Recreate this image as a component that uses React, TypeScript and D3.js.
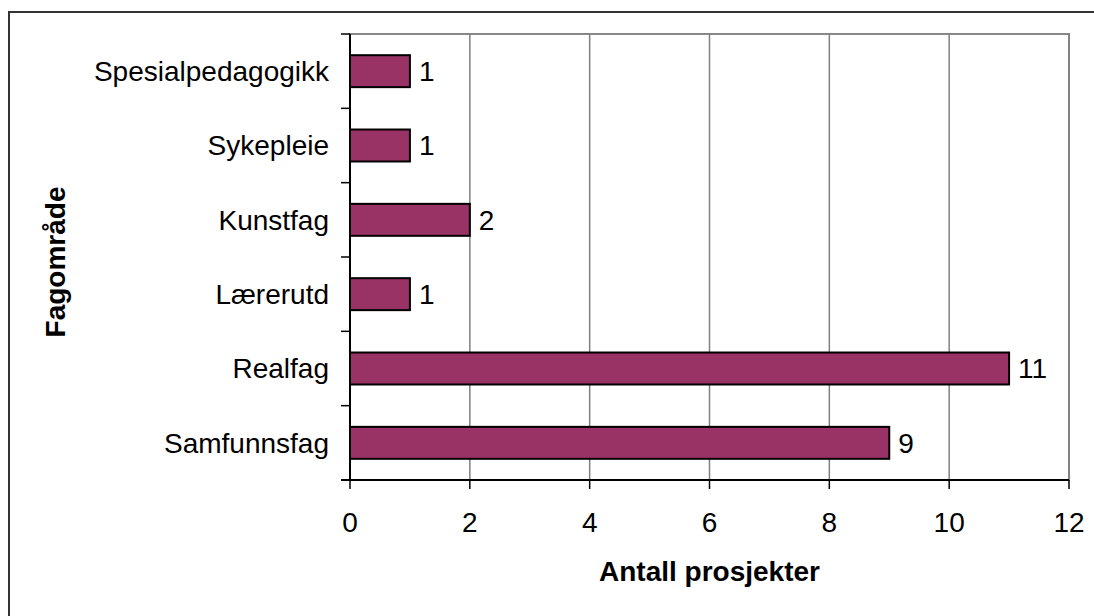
import React, { useEffect, useRef } from 'react';
import * as d3 from 'd3';

const categories = ['Spesialpedagogikk', 'Sykepleie', 'Kunstfag', 'Lærerutd', 'Realfag', 'Samfunnsfag'];
const values = [1, 1, 2, 1, 11, 9];
const xTicks = [0, 2, 4, 6, 8, 10, 12];

const App: React.FC = () => {
  const ref = useRef<SVGSVGElement | null>(null);

  useEffect(() => {
    document.body.style.margin = '0';
    const W = 1094;
    const H = 616;
    const plot = { left: 350, right: 1069, top: 34, bottom: 480 };
    const font = 'Arial, "Liberation Sans", sans-serif';
    const fs = 28;

    const svg = d3.select(ref.current);
    svg.selectAll('*').remove();
    svg.attr('width', W).attr('height', H);

    // background + outer frame
    svg.append('rect').attr('width', W).attr('height', H).attr('fill', '#fff');
    svg.append('rect')
      .attr('x', 9).attr('y', 12)
      .attr('width', W + 10).attr('height', H + 10)
      .attr('fill', 'none').attr('stroke', '#333').attr('stroke-width', 2);

    const x = d3.scaleLinear().domain([0, 12]).range([plot.left, plot.right]);
    const y = d3.scaleBand<string>()
      .domain(categories)
      .range([plot.top, plot.bottom])
      .paddingInner(0.57)
      .paddingOuter(0.285);

    // plot area border (gray)
    svg.append('rect')
      .attr('x', plot.left).attr('y', plot.top)
      .attr('width', plot.right - plot.left).attr('height', plot.bottom - plot.top)
      .attr('fill', 'none').attr('stroke', '#888').attr('stroke-width', 2);

    // gridlines
    svg.append('g')
      .selectAll('line')
      .data(xTicks.filter(t => t > 0))
      .enter()
      .append('line')
      .attr('x1', d => x(d)).attr('x2', d => x(d))
      .attr('y1', plot.top).attr('y2', plot.bottom)
      .attr('stroke', '#808080').attr('stroke-width', 1.5);

    // bars
    svg.append('g')
      .selectAll('rect')
      .data(categories)
      .enter()
      .append('rect')
      .attr('x', x(0))
      .attr('y', d => y(d)!)
      .attr('width', (d, i) => x(values[i]) - x(0))
      .attr('height', y.bandwidth())
      .attr('fill', '#993366')
      .attr('stroke', '#000')
      .attr('stroke-width', 2);

    // value labels
    svg.append('g')
      .selectAll('text')
      .data(categories)
      .enter()
      .append('text')
      .attr('x', (d, i) => x(values[i]) + 9)
      .attr('y', d => y(d)! + y.bandwidth() / 2)
      .attr('dy', '0.35em')
      .attr('font-family', font)
      .attr('font-size', fs)
      .attr('fill', '#000')
      .text((d, i) => String(values[i]));

    // y axis line + ticks at band boundaries
    const bounds = d3.range(categories.length + 1).map(i => plot.top + i * (plot.bottom - plot.top) / categories.length);
    svg.append('line')
      .attr('x1', plot.left).attr('x2', plot.left)
      .attr('y1', plot.top).attr('y2', plot.bottom)
      .attr('stroke', '#000').attr('stroke-width', 2);
    svg.append('g')
      .selectAll('line')
      .data(bounds)
      .enter()
      .append('line')
      .attr('x1', plot.left - 9).attr('x2', plot.left)
      .attr('y1', d => d).attr('y2', d => d)
      .attr('stroke', '#000').attr('stroke-width', 1.5);

    // category labels
    svg.append('g')
      .selectAll('text')
      .data(categories)
      .enter()
      .append('text')
      .attr('x', plot.left - 21)
      .attr('y', d => y(d)! + y.bandwidth() / 2)
      .attr('dy', '0.35em')
      .attr('text-anchor', 'end')
      .attr('font-family', font)
      .attr('font-size', fs)
      .attr('fill', '#000')
      .text(d => d);

    // x axis line + ticks
    svg.append('line')
      .attr('x1', plot.left - 9).attr('x2', plot.right)
      .attr('y1', plot.bottom).attr('y2', plot.bottom)
      .attr('stroke', '#000').attr('stroke-width', 2);
    svg.append('g')
      .selectAll('line')
      .data(xTicks)
      .enter()
      .append('line')
      .attr('x1', d => x(d)).attr('x2', d => x(d))
      .attr('y1', plot.bottom).attr('y2', plot.bottom + 9)
      .attr('stroke', '#000').attr('stroke-width', 1.5);
    svg.append('g')
      .selectAll('text')
      .data(xTicks)
      .enter()
      .append('text')
      .attr('x', d => x(d))
      .attr('y', plot.bottom + 42)
      .attr('dy', '0.35em')
      .attr('text-anchor', 'middle')
      .attr('font-family', font)
      .attr('font-size', fs)
      .attr('fill', '#000')
      .text(d => String(d));

    // axis titles
    svg.append('text')
      .attr('x', (plot.left + plot.right) / 2)
      .attr('y', 581)
      .attr('text-anchor', 'middle')
      .attr('font-family', font)
      .attr('font-weight', 'bold')
      .attr('font-size', fs)
      .attr('fill', '#000')
      .text('Antall prosjekter');

    svg.append('text')
      .attr('transform', `translate(65,262) rotate(-90)`)
      .attr('text-anchor', 'middle')
      .attr('font-family', font)
      .attr('font-weight', 'bold')
      .attr('font-size', fs)
      .attr('fill', '#000')
      .text('Fagområde');
  }, []);

  return <svg ref={ref} style={{ display: 'block' }} />;
};

export default App;
